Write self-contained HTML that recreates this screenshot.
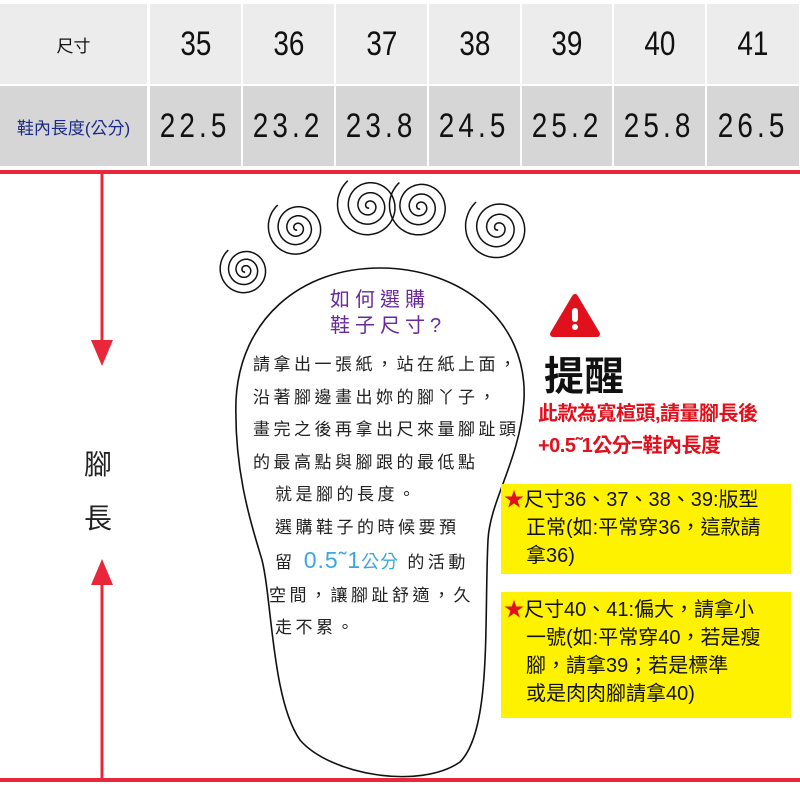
<!DOCTYPE html>
<html><head><meta charset="utf-8">
<style>
body{margin:0;width:800px;height:800px;background:#fff;overflow:hidden;position:relative;font-family:"Liberation Sans","Noto Sans CJK TC",sans-serif}
.c{position:absolute;display:flex;align-items:center;justify-content:center;color:#111}
.c span{display:inline-block;transform:scaleX(0.82)}
.t{position:absolute;white-space:nowrap}
</style></head><body>
<div id="tbl"></div>
<svg width="800" height="800" style="position:absolute;left:0;top:0" id="sv">
<rect x="0" y="170" width="800" height="4" fill="#e8283a"/>
<rect x="0" y="778" width="800" height="4" fill="#e8283a"/>
<line x1="102" y1="174" x2="102" y2="345" stroke="#e8283a" stroke-width="3"/>
<polygon points="91,340 113,340 102,366" fill="#e8283a"/>
<line x1="102" y1="580" x2="102" y2="778" stroke="#e8283a" stroke-width="3"/>
<polygon points="91,585 113,585 102,559" fill="#e8283a"/>
<path d="M380,268 C300,268 240,320 236,400 C234,470 250,520 262,560 C272,600 272,700 300,740 C330,775 420,790 460,762 C492,730 484,620 488,540 C490,500 520,460 524,400 C528,320 460,268 380,268 Z" fill="none" stroke="#111" stroke-width="1.6"/>
<g id="toes" fill="none" stroke="#111" stroke-width="1.5"></g>
<path d="M575,297 L597,334 L553,334 Z" fill="#e0101c" stroke="#e0101c" stroke-width="6" stroke-linejoin="round"/>
<rect x="572" y="308" width="6" height="14" rx="3" fill="#fff"/>
<circle cx="575" cy="327" r="3" fill="#fff"/>
<rect x="501" y="484" width="290" height="90" fill="#fff200"/>
<rect x="501" y="592" width="290" height="126" fill="#fff200"/>
</svg>
<div class="t" style="left:84px;top:443px;font-size:28px;color:#222">腳</div>
<div class="t" style="left:84px;top:497px;font-size:28px;color:#222">長</div>
<div class="t" style="left:330px;top:287px;font-size:20px;color:#6a2a9a;letter-spacing:5px;line-height:26px">如何選購<br>鞋子尺寸?</div>
<div class="t" style="left:253px;top:349px;font-size:17px;color:#222;line-height:32.5px;letter-spacing:3.5px">請拿出一張紙，站在紙上面，<br>沿著腳邊畫出妳的腳丫子，<br>畫完之後再拿出尺來量腳趾頭<br>的最高點與腳跟的最低點<br>
<span style="padding-left:22px">就是腳的長度。</span><br>
<span style="padding-left:22px">選購鞋子的時候要預</span><br>
<span style="padding-left:22px">留 <span style="color:#3aa8e0;font-size:23px;letter-spacing:1px">0.5˜1<span style="font-size:18px">公分</span></span> 的活動</span><br>
<span style="padding-left:16px">空間，讓腳趾舒適，久</span><br>
<span style="padding-left:22px">走不累。</span></div>
<div class="t" style="left:544px;top:344px;font-size:40px;font-weight:bold;color:#111">提醒</div>
<div class="t" style="left:538px;top:398px;font-size:20px;font-weight:bold;color:#e0101c;line-height:32px;letter-spacing:-0.5px">此款為寬楦頭,請量腳長後<br>+0.5˜1公分=鞋內長度</div>
<div class="t" style="left:504px;top:486px;font-size:20px;color:#111;line-height:28px"><span style="color:#e0101c">★</span>尺寸36、37、38、39:版型<br><span style="padding-left:22px">正常(如:平常穿36，這款請</span><br><span style="padding-left:22px">拿36)</span></div>
<div class="t" style="left:504px;top:596px;font-size:20px;color:#111;line-height:28px"><span style="color:#e0101c">★</span>尺寸40、41:偏大，請拿小<br><span style="padding-left:22px">一號(如:平常穿40，若是瘦</span><br><span style="padding-left:22px">腳，請拿39；若是標準</span><br><span style="padding-left:22px">或是肉肉腳請拿40)</span></div>
<script>
var cols=[0,149,242,335,428,521,613,706,800];
var top1=["尺寸","35","36","37","38","39","40","41"];
var bot=["鞋內長度(公分)","22.5","23.2","23.8","24.5","25.2","25.8","26.5"];
var h="";
for(var i=0;i<8;i++){
 var x=cols[i]+(i?1:0),w=cols[i+1]-cols[i]-2;
 h+='<div class="c" style="left:'+x+'px;top:4px;width:'+w+'px;height:80px;background:#ececec;font-size:'+(i?34:17)+'px">'+(i?'<span>'+top1[i]+'</span>':top1[i])+'</div>';
 h+='<div class="c" style="left:'+x+'px;top:86px;width:'+w+'px;height:80px;background:#d6d6d6;font-size:'+(i?34:17)+'px;'+(i?'letter-spacing:5px':'color:#1a2a8a')+'">'+(i?'<span>'+bot[i]+'</span>':bot[i])+'</div>';
}
document.getElementById('tbl').innerHTML=h;
var toes=[[245,270,26],[297,228,30],[369,206,33],[420,207,32],[498,228,34]];
var g="";
toes.forEach(function(t){
 var d="",n=360,turns=3.4;
 for(var k=0;k<=n;k++){var f=k/n;var a=f*turns*2*Math.PI;var r=2+(t[2]-2)*Math.pow(f,1.25);
  var px=t[0]+r*Math.cos(a+1.5),py=t[1]+r*Math.sin(a+1.5);d+=(k?"L":"M")+px.toFixed(1)+","+py.toFixed(1);}
 g+='<path d="'+d+'"/>';
});
document.getElementById('toes').innerHTML=g;
</script>
</body></html>
